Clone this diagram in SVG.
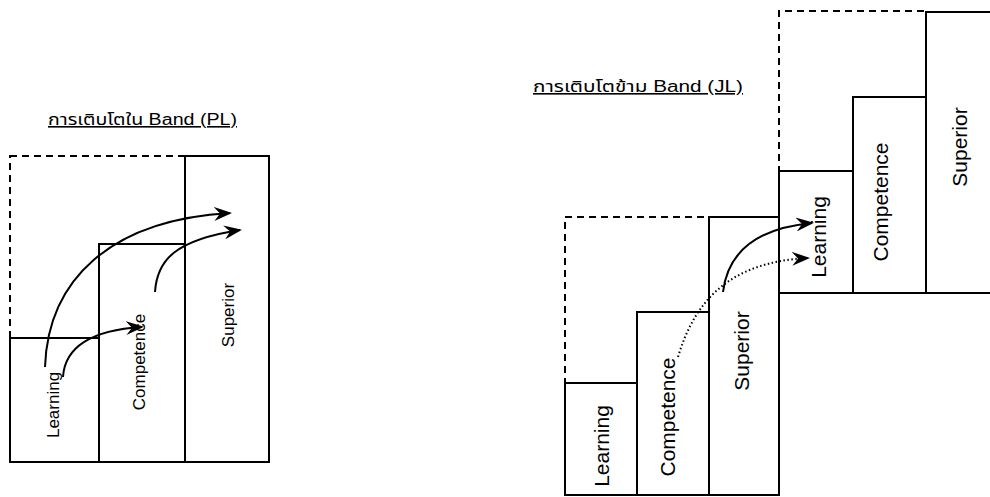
<svg xmlns="http://www.w3.org/2000/svg" width="990" height="497" viewBox="0 0 990 497">
<style>
  .box { fill: none; stroke: #000; stroke-width: 2; }
  .band { fill: none; stroke: #000; stroke-width: 2; stroke-dasharray: 7 5; }
  .lbl { font-family: "Liberation Sans", Arial, sans-serif; fill: #000; text-anchor: middle; }
  .sm { font-size: 17px; }
  .lg { font-size: 21px; }
  .title { font-family: "Liberation Sans", "Noto Sans Thai", "DejaVu Sans", sans-serif; font-size: 16px; fill: #000; text-decoration: underline; }
  .arr { fill: none; stroke: #000; stroke-width: 2; marker-end: url(#head); }
  .dot { fill: none; stroke: #000; stroke-width: 2; stroke-dasharray: 1.5 2.5; marker-end: url(#head); }
</style>
<defs>
  <marker id="head" viewBox="0 0 18 14" refX="16" refY="7" markerWidth="18" markerHeight="14" markerUnits="userSpaceOnUse" orient="auto">
    <path d="M0,0 L18,7 L0,14 L6,7 Z" fill="#000"/>
  </marker>
</defs>
<rect width="990" height="497" fill="#fff"/>

<!-- Left: growth within band -->
<text class="title" x="48" y="125" textLength="189" lengthAdjust="spacingAndGlyphs">การเติบโตใน Band (PL)</text>
<rect class="band" x="10" y="156" width="259" height="306"/>
<g id="pl-learning">
  <rect class="box" x="10" y="338" width="89" height="124"/>
  <text class="lbl sm" transform="translate(59,405) rotate(-90)">Learning</text>
</g>
<g id="pl-competence">
  <rect class="box" x="99" y="244" width="86" height="218"/>
  <text class="lbl sm" transform="translate(145,362) rotate(-90)">Competence</text>
</g>
<g id="pl-superior">
  <rect class="box" x="185" y="156" width="84" height="306"/>
  <text class="lbl sm" transform="translate(234,315) rotate(-90)">Superior</text>
</g>

<!-- Right: growth across bands -->
<text class="title" x="533" y="92" textLength="210" lengthAdjust="spacingAndGlyphs">การเติบโตข้าม Band (JL)</text>
<rect class="band" x="565" y="217" width="214" height="278"/>
<path class="band" d="M779,293 V11 H926"/>
<g id="jl1-learning">
  <rect class="box" x="565" y="383" width="72" height="112"/>
  <text class="lbl lg" transform="translate(609,446) rotate(-90)">Learning</text>
</g>
<g id="jl1-competence">
  <rect class="box" x="637" y="312" width="72" height="183"/>
  <text class="lbl lg" transform="translate(675,417) rotate(-90)">Competence</text>
</g>
<g id="jl1-superior">
  <rect class="box" x="709" y="217" width="70" height="278"/>
  <text class="lbl lg" transform="translate(749,351) rotate(-90)">Superior</text>
</g>
<g id="jl2-learning">
  <rect class="box" x="779" y="171" width="74" height="122"/>
  <text class="lbl lg" transform="translate(826,237) rotate(-90)">Learning</text>
</g>
<g id="jl2-competence">
  <rect class="box" x="853" y="97" width="73" height="196"/>
  <text class="lbl lg" transform="translate(888,202) rotate(-90)">Competence</text>
</g>
<g id="jl2-superior">
  <path class="box" d="M990,12 H926 V293 H990"/>
  <text class="lbl lg" transform="translate(967,147) rotate(-90)">Superior</text>
</g>

<g id="connectors">
  <path class="arr" d="M45,367 C48,280 110,220 230,213"/>
  <path class="arr" d="M63,377 C65,345 95,330 142,327"/>
  <path class="arr" d="M155,292 C157,260 175,240 240,230"/>
  <path class="arr" d="M723,292 C728,250 760,228 812,223"/>
  <path class="dot" d="M678,357 C695,300 730,262 808,258"/>
</g>
</svg>
